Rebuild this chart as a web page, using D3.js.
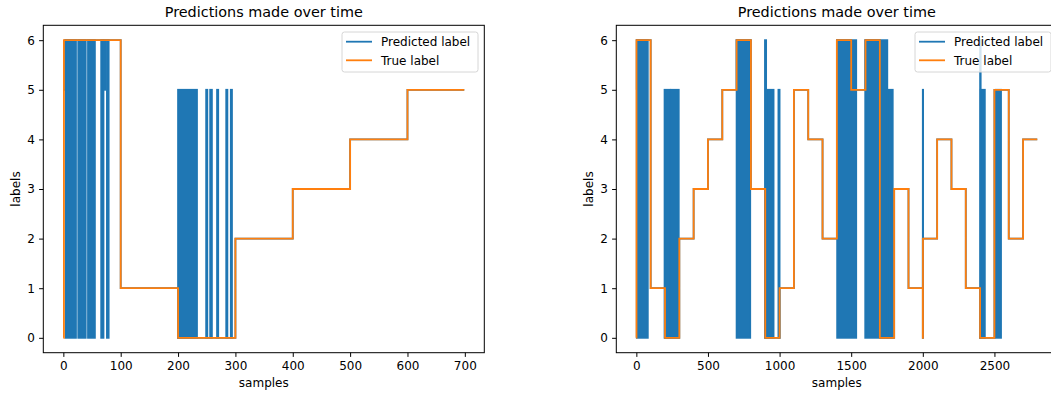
<!DOCTYPE html>
<html>
<head>
<meta charset="utf-8">
<script src="https://cdn.jsdelivr.net/npm/d3@7"></script>
<style>
  html, body { margin: 0; padding: 0; background: #fff; }
  svg { display: block; font-family: "DejaVu Sans", sans-serif; }
</style>
</head>
<body>
<div class="chart-container"></div>
<script>
// tick labels
const leftTicksX = [0, 100, 200, 300, 400, 500, 600, 700];
const rightTicksX = [0, 500, 1000, 1500, 2000, 2500];
const labelTicks = [0, 1, 2, 3, 4, 5, 6];

// true label: sample where each run starts + its label
const leftTrueStart = [0, 1, 100, 200, 300, 400, 500, 600];
const leftTrueLabel = [0, 6, 1, 0, 2, 3, 4, 5];
const leftLastSample = 699;

const rightTrueStart = [0, 1, 100, 200, 300, 400, 500, 600, 700, 800, 900, 1000, 1100, 1200, 1300,
  1400, 1500, 1600, 1700, 1800, 1900, 2000, 2001, 2100, 2200, 2300, 2400, 2500, 2600, 2700];
const rightTrueLabel = [0, 6, 1, 0, 2, 3, 4, 5, 6, 3, 0, 1, 5, 4, 2,
  6, 5, 6, 0, 3, 1, 0, 2, 4, 3, 1, 0, 5, 2, 4];
const rightLastSample = 2799;

// predicted label, steady runs
const leftPredStart = [0, 3, 100, 200, 300, 400, 500, 600];
const leftPredLabel = [5, 6, 1, 0, 2, 3, 4, 5];

const rightPredStart = [0, 3, 100, 200, 300, 400, 500, 600, 700, 800, 900, 1000, 1100, 1200, 1300,
  1400, 1500, 1600, 1700, 1800, 1900, 2000, 2100, 2200, 2300, 2400, 2500, 2600, 2700];
const rightPredLabel = [5, 6, 1, 0, 2, 3, 4, 5, 6, 3, 0, 1, 5, 4, 2,
  6, 5, 6, 0, 3, 1, 2, 4, 3, 1, 0, 5, 2, 4];

// predicted label, spans where it flickers between two labels: [from, to, low, high]
const leftPredFlicker = [
  [4, 22, 0, 6], [26, 39, 0, 6], [43, 55, 0, 6], [66, 70, 0, 6], [70, 73, 5, 6], [76, 79, 0, 6],
  [200, 233, 0, 5], [249, 251, 0, 5], [256, 259, 0, 5], [268, 270, 0, 5], [284, 286, 0, 5], [292, 294, 0, 5]
];
const rightPredFlicker = [
  [3, 80, 0, 6], [197, 236, 0, 5], [244, 296, 0, 5], [700, 795, 0, 6],
  [898, 906, 0, 6], [906, 958, 0, 5], [992, 1000, 0, 5],
  [1402, 1535, 0, 6], [1598, 1752, 0, 6], [1752, 1790, 0, 5], [2000, 2002, 0, 5],
  [2400, 2404, 0, 6], [2404, 2433, 0, 5], [2510, 2546, 0, 5]
];

const width = 1051, height = 396;
const blue = '#1f77b4', orange = '#ff7f0e';
const plotTop = 25.3, plotBottom = 352.7;

const svg = d3.select('.chart-container')
  .append('svg')
  .attr('width', width)
  .attr('height', height);

function steps(starts, labels, last) {
  const pts = starts.map((s, i) => [s, labels[i]]);
  pts.push([last, labels[labels.length - 1]]);
  return pts;
}

function drawPanel(p) {
  const x = d3.scaleLinear().domain([-0.05 * p.last, 1.05 * p.last]).range([p.left, p.left + 441]);
  const y = d3.scaleLinear().domain([-0.3, 6.3]).range([plotBottom, plotTop]);
  const g = svg.append('g');

  const line = d3.line().curve(d3.curveStepAfter).x(d => x(d[0])).y(d => y(d[1]));

  // predicted
  g.append('path')
    .attr('d', line(steps(p.predStart, p.predLabel, p.last)))
    .attr('fill', 'none').attr('stroke', blue).attr('stroke-width', 1.8);
  g.selectAll('.flicker')
    .data(p.flicker)
    .join('rect')
    .attr('class', 'flicker')
    .attr('x', d => x(d[0]))
    .attr('width', d => x(d[1]) - x(d[0]))
    .attr('y', d => y(d[3]))
    .attr('height', d => y(d[2]) - y(d[3]))
    .attr('fill', blue).attr('stroke', blue).attr('stroke-width', 1.8);

  // true
  g.append('path')
    .attr('d', line(steps(p.trueStart, p.trueLabel, p.last)))
    .attr('fill', 'none').attr('stroke', orange).attr('stroke-width', 1.8);

  // axes
  const fmt = d3.format('d');
  const xAxis = g.append('g').attr('transform', `translate(0,${plotBottom})`)
    .call(d3.axisBottom(x).tickValues(p.ticks).tickFormat(fmt).tickSize(4.2).tickPadding(4.2));
  const yAxis = g.append('g').attr('transform', `translate(${p.left},0)`)
    .call(d3.axisLeft(y).tickValues(labelTicks).tickFormat(fmt).tickSize(4.2).tickPadding(4.2));
  [xAxis, yAxis].forEach(a => {
    a.select('.domain').remove();
    a.selectAll('line').attr('stroke', '#000').attr('stroke-width', 1);
    a.selectAll('text').attr('fill', '#000').style('font-size', '12px')
      .style('font-family', '"DejaVu Sans", sans-serif');
  });

  g.append('rect')
    .attr('x', p.left).attr('y', plotTop)
    .attr('width', 441).attr('height', plotBottom - plotTop)
    .attr('fill', 'none').attr('stroke', '#000').attr('stroke-width', 1);

  const cx = p.left + 220.5;
  g.append('text').attr('x', cx).attr('y', 16.6)
    .attr('text-anchor', 'middle').style('font-size', '14.4px')
    .text('Predictions made over time');
  g.append('text').attr('x', cx).attr('y', 387)
    .attr('text-anchor', 'middle').style('font-size', '12px')
    .text('samples');
  g.append('text')
    .attr('transform', `translate(${p.left - 23.8},${(plotTop + plotBottom) / 2}) rotate(-90)`)
    .attr('text-anchor', 'middle').style('font-size', '12px')
    .text('labels');

  // legend
  const lx = p.left + 441 - 142.3;
  const leg = g.append('g');
  leg.append('rect')
    .attr('x', lx).attr('y', 32).attr('width', 136).attr('height', 40).attr('rx', 2.5)
    .attr('fill', '#fff').attr('fill-opacity', 0.8)
    .attr('stroke', '#d6d6d6').attr('stroke-width', 1);
  [['Predicted label', blue, 41.7], ['True label', orange, 60.3]].forEach(([t, c, ly]) => {
    leg.append('line')
      .attr('x1', lx + 4).attr('x2', lx + 30).attr('y1', ly).attr('y2', ly)
      .attr('stroke', c).attr('stroke-width', 1.8);
    leg.append('text').attr('x', lx + 39).attr('y', ly + 4.3)
      .style('font-size', '12px').text(t);
  });
}

drawPanel({
  left: 43.3, last: leftLastSample, ticks: leftTicksX,
  trueStart: leftTrueStart, trueLabel: leftTrueLabel,
  predStart: leftPredStart, predLabel: leftPredLabel, flicker: leftPredFlicker
});
drawPanel({
  left: 616.3, last: rightLastSample, ticks: rightTicksX,
  trueStart: rightTrueStart, trueLabel: rightTrueLabel,
  predStart: rightPredStart, predLabel: rightPredLabel, flicker: rightPredFlicker
});
</script>
</body>
</html>
